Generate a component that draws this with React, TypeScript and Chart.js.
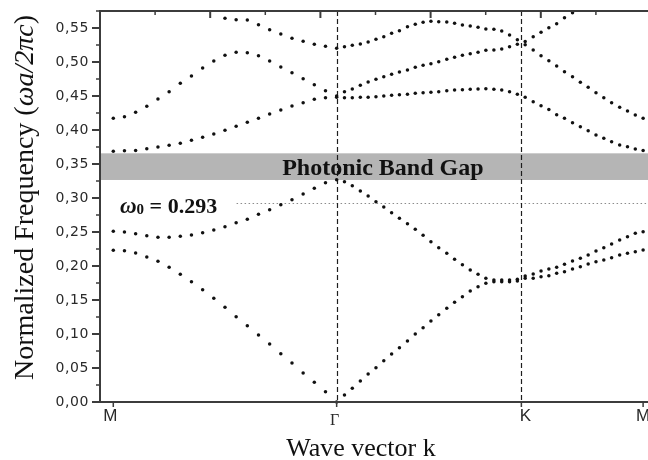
import React, { useEffect, useRef } from 'react';
import { Chart, registerables } from 'chart.js';

Chart.register(...registerables);

// k-path coordinate (M = 0, Γ = 1, K ≈ 1.827, M ≈ 2.372)
const kPath = [
  0, 0.05, 0.10, 0.15, 0.20, 0.25, 0.30, 0.35, 0.40, 0.45, 0.50, 0.55, 0.60, 0.65, 0.70, 0.75, 0.80, 0.85, 0.90, 0.95, 1.00,
  1.035, 1.070, 1.106, 1.141, 1.176, 1.211, 1.246, 1.281, 1.317, 1.352, 1.387, 1.422, 1.457, 1.493, 1.528, 1.563, 1.598, 1.633, 1.668, 1.704, 1.739, 1.774, 1.809,
  1.844, 1.880, 1.915, 1.950, 1.985, 2.020, 2.056, 2.091, 2.126, 2.161, 2.196, 2.231, 2.267, 2.302, 2.337, 2.372,
];

const kTickValues = [0, 1, 1.827, 2.372];
const kTickLabels = ['M', 'Γ', 'K', 'M'];

const yMajorTicks = [0, 0.05, 0.10, 0.15, 0.20, 0.25, 0.30, 0.35, 0.40, 0.45, 0.50, 0.55];
const yTickLabels = ['0,00', '0,05', '0,10', '0,15', '0,20', '0,25', '0,30', '0,35', '0,40', '0,45', '0,50', '0,55'];

// bands: M→Γ (21), Γ→K (23), K→M (16)
const band1 = [
  0.2230, 0.2225, 0.2191, 0.2132, 0.2069, 0.1981, 0.1877, 0.1770, 0.1652, 0.1525, 0.1392, 0.1255, 0.1123, 0.0985, 0.0853, 0.0711, 0.0574, 0.0426, 0.0289, 0.0152, 0.0000,
  0.0103, 0.0201, 0.0309, 0.0412, 0.0505, 0.0608, 0.0706, 0.0799, 0.0897, 0.1000, 0.1093, 0.1191, 0.1284, 0.1377, 0.1466, 0.1549, 0.1632, 0.1696, 0.1745, 0.1770, 0.1770, 0.1770, 0.1779,
  0.1819, 0.1819, 0.1843, 0.1858, 0.1892, 0.1917, 0.1956, 0.1990, 0.2029, 0.2064, 0.2088, 0.2123, 0.2162, 0.2186, 0.2211, 0.2235,
];
const band2 = [
  0.2510, 0.2500, 0.2475, 0.2446, 0.2422, 0.2422, 0.2436, 0.2456, 0.2490, 0.2529, 0.2578, 0.2637, 0.2686, 0.2760, 0.2828, 0.2902, 0.2975, 0.3059, 0.3142, 0.3225, 0.3270,
  0.3240, 0.3181, 0.3103, 0.3029, 0.2946, 0.2868, 0.2784, 0.2701, 0.2623, 0.2539, 0.2451, 0.2358, 0.2270, 0.2186, 0.2098, 0.2020, 0.1941, 0.1877, 0.1819, 0.1794, 0.1794, 0.1794, 0.1804,
  0.1853, 0.1882, 0.1926, 0.1956, 0.1980, 0.2025, 0.2074, 0.2113, 0.2162, 0.2221, 0.2270, 0.2324, 0.2382, 0.2431, 0.2480, 0.2505,
];
const band3 = [
  0.3687, 0.3696, 0.3700, 0.3726, 0.3750, 0.3775, 0.3804, 0.3848, 0.3892, 0.3940, 0.3995, 0.4054, 0.4113, 0.4172, 0.4235, 0.4294, 0.4353, 0.4402, 0.4451, 0.4475, 0.4480,
  0.4475, 0.4475, 0.4480, 0.4480, 0.4490, 0.4500, 0.4510, 0.4520, 0.4524, 0.4539, 0.4549, 0.4554, 0.4564, 0.4578, 0.4588, 0.4593, 0.4598, 0.4603, 0.4608, 0.4598, 0.4588, 0.4564, 0.4524,
  0.4480, 0.4417, 0.4355, 0.4300, 0.4225, 0.4172, 0.4108, 0.4049, 0.3988, 0.3926, 0.3877, 0.3828, 0.3779, 0.3755, 0.3720, 0.3700,
];
const band4 = [
  0.4171, 0.4196, 0.4260, 0.4348, 0.4456, 0.4564, 0.4686, 0.4794, 0.4912, 0.5015, 0.5098, 0.5142, 0.5137, 0.5093, 0.5015, 0.4926, 0.4843, 0.4755, 0.4667, 0.4578, 0.4500,
  0.4564, 0.4603, 0.4657, 0.4706, 0.4745, 0.4784, 0.4819, 0.4853, 0.4882, 0.4922, 0.4951, 0.4975, 0.5005, 0.5039, 0.5069, 0.5098, 0.5122, 0.5142, 0.5172, 0.5176, 0.5191, 0.5225, 0.5260,
  0.5255, 0.5176, 0.5093, 0.5020, 0.4941, 0.4858, 0.4784, 0.4701, 0.4627, 0.4549, 0.4475, 0.4402, 0.4333, 0.4279, 0.4221, 0.4172,
];
const band5 = [
  null, null, null, null, null, null, null, null, null, null, 0.5642, 0.5622, 0.5618, 0.5549, 0.5475, 0.5412, 0.5348, 0.5304, 0.5260, 0.5230, 0.5201,
  0.5225, 0.5245, 0.5265, 0.5294, 0.5333, 0.5372, 0.5421, 0.5461, 0.5520, 0.5554, 0.5583, 0.5598, 0.5593, 0.5588, 0.5569, 0.5544, 0.5529, 0.5510, 0.5485, 0.5480, 0.5456, 0.5397, 0.5328,
  0.5300, 0.5372, 0.5436, 0.5505, 0.5564, 0.5652, 0.5725, null, null, null, null, null, null, null, null, null,
];

const bands = [band1, band2, band3, band4, band5];

const gapBottom = 0.3265;
const gapTop = 0.3657;
const omega0 = 0.293;
const omegaLineStartK = 0.552;
const omegaLabelK = 0.03;
const gapLabelK = 1.207;

const kMin = -0.0595;
const kMax = 2.47;
const yMax = 0.575;
const topAxisMax = 5.127;

const SERIF = '"Liberation Serif", "Times New Roman", serif';
const SANS = '"Liberation Sans", Arial, sans-serif';

const decorPlugin = {
  id: 'decor',
  beforeDatasetsDraw(chart: any) {
    const { ctx, chartArea: a, scales } = chart;
    const x = scales.x, y = scales.y;
    ctx.save();
    // band gap
    const yt = y.getPixelForValue(gapTop);
    const yb = y.getPixelForValue(gapBottom);
    ctx.fillStyle = '#b5b5b5';
    ctx.fillRect(a.left, yt, a.right - a.left, yb - yt);
    // omega0 dotted line
    const yo = Math.round(y.getPixelForValue(omega0)) + 0.5;
    ctx.strokeStyle = '#8c8c8c';
    ctx.lineWidth = 1;
    ctx.setLineDash([1.5, 2.5]);
    ctx.beginPath();
    ctx.moveTo(x.getPixelForValue(omegaLineStartK), yo);
    ctx.lineTo(a.right, yo);
    ctx.stroke();
    // vertical dashed lines at Γ and K
    ctx.strokeStyle = '#1e1e1e';
    ctx.lineWidth = 1.2;
    ctx.setLineDash([5, 3]);
    for (const k of [kTickValues[1], kTickValues[2]]) {
      const px = Math.round(x.getPixelForValue(k)) + 0.5;
      ctx.beginPath();
      ctx.moveTo(px, a.top);
      ctx.lineTo(px, a.bottom);
      ctx.stroke();
    }
    ctx.restore();
  },
  afterDatasetsDraw(chart: any) {
    const { ctx, chartArea: a, scales } = chart;
    const x = scales.x, y = scales.y, xt = scales.xTop;
    ctx.save();
    ctx.setLineDash([]);

    // Photonic Band Gap label
    const ymid = (y.getPixelForValue(gapTop) + y.getPixelForValue(gapBottom)) / 2;
    ctx.fillStyle = '#111';
    ctx.font = `bold 24px ${SERIF}`;
    ctx.textAlign = 'center';
    ctx.textBaseline = 'alphabetic';
    ctx.fillText('Photonic Band Gap', x.getPixelForValue(gapLabelK), ymid + 8);

    // omega0 label
    const yo = y.getPixelForValue(omega0);
    let tx = x.getPixelForValue(omegaLabelK);
    const base = yo + 10.5;
    ctx.textAlign = 'left';
    ctx.font = `italic bold 23px ${SERIF}`;
    ctx.fillText('ω', tx, base);
    tx += ctx.measureText('ω').width;
    ctx.font = `bold 15px ${SERIF}`;
    ctx.fillText('0', tx, base + 1);
    tx += ctx.measureText('0').width;
    ctx.font = `bold 22px ${SERIF}`;
    ctx.fillText(' = 0.293', tx, base);

    // axes lines
    ctx.strokeStyle = '#3c3c3c';
    ctx.lineWidth = 2;
    ctx.beginPath();
    ctx.moveTo(a.left, a.top);
    ctx.lineTo(a.left, a.bottom);
    ctx.moveTo(a.left - 1, a.bottom);
    ctx.lineTo(a.right, a.bottom);
    ctx.moveTo(a.left - 1, a.top);
    ctx.lineTo(a.right, a.top);
    ctx.stroke();

    // left ticks
    ctx.beginPath();
    for (const v of yMajorTicks) {
      const py = y.getPixelForValue(v);
      ctx.moveTo(a.left - 8, py);
      ctx.lineTo(a.left, py);
    }
    ctx.stroke();
    ctx.lineWidth = 1.5;
    ctx.beginPath();
    for (const v of yMajorTicks) {
      const py = y.getPixelForValue(v + 0.025);
      ctx.moveTo(a.left - 4, py);
      ctx.lineTo(a.left, py);
    }
    ctx.stroke();

    // top ticks (inward)
    ctx.lineWidth = 2;
    ctx.beginPath();
    for (let i = 0; i <= Math.floor(topAxisMax); i++) {
      const px = xt.getPixelForValue(i);
      ctx.moveTo(px, a.top);
      ctx.lineTo(px, a.top + 7);
    }
    ctx.stroke();
    ctx.lineWidth = 1.5;
    ctx.beginPath();
    for (let i = 0; i + 0.5 <= topAxisMax; i++) {
      const px = xt.getPixelForValue(i + 0.5);
      ctx.moveTo(px, a.top);
      ctx.lineTo(px, a.top + 4);
    }
    ctx.stroke();

    // bottom ticks
    ctx.beginPath();
    for (const k of kTickValues) {
      const px = x.getPixelForValue(k);
      ctx.moveTo(px, a.bottom);
      ctx.lineTo(px, a.bottom + 5);
    }
    ctx.stroke();

    // y tick labels
    ctx.fillStyle = '#2a2a2a';
    ctx.font = `14px "DejaVu Sans", ${SANS}`;
    (ctx as any).letterSpacing = '0.6px';
    ctx.textAlign = 'right';
    ctx.textBaseline = 'middle';
    yMajorTicks.forEach((v, i) => {
      ctx.fillText(yTickLabels[i], a.left - 11, y.getPixelForValue(v));
    });
    (ctx as any).letterSpacing = '0px';

    // x tick labels
    ctx.textAlign = 'center';
    ctx.textBaseline = 'alphabetic';
    kTickValues.forEach((k, i) => {
      const lab = kTickLabels[i];
      if (lab === 'Γ') {
        ctx.font = `16px ${SERIF}`;
        ctx.fillText(lab, x.getPixelForValue(k) - 2, a.bottom + 23);
      } else {
        ctx.font = `17px ${SANS}`;
        ctx.fillText(lab, x.getPixelForValue(k) - (i === 0 ? 3 : i === 2 ? -4 : 0), a.bottom + 19);
      }
    });

    // x title
    ctx.fillStyle = '#111';
    ctx.font = `26px ${SERIF}`;
    ctx.fillText('Wave vector k', a.left + 261, a.bottom + 54);

    // y title (rotated)
    const segs: [string, string][] = [
      ['Normalized Frequency (', `28px ${SERIF}`],
      ['ωa/2πc', `italic 28px ${SERIF}`],
      [')', `28px ${SERIF}`],
    ];
    let total = 0;
    for (const [t, f] of segs) { ctx.font = f; total += ctx.measureText(t).width; }
    ctx.translate(33, 197.5 + total / 2);
    ctx.rotate(-Math.PI / 2);
    ctx.textAlign = 'left';
    let cx = 0;
    for (const [t, f] of segs) {
      ctx.font = f;
      ctx.fillText(t, cx, 0);
      cx += ctx.measureText(t).width;
    }
    ctx.restore();
  },
};

export default function App() {
  const ref = useRef<HTMLCanvasElement>(null);
  useEffect(() => {
    if (!ref.current) return;
    const datasets = bands.map((b, bi) => ({
      label: `band ${bi + 1}`,
      data: kPath
        .map((k, i) => ({ x: k, y: b[i] }))
        .filter((p) => p.y !== null && p.y !== undefined),
      showLine: false,
      pointRadius: 1.75,
      pointBackgroundColor: '#111',
      pointBorderWidth: 0,
      pointHoverRadius: 1.75,
      clip: 4,
    }));
    const chart = new Chart(ref.current, {
      type: 'scatter',
      data: { datasets: datasets as any },
      options: {
        animation: false,
        responsive: false,
        devicePixelRatio: 1,
        events: [],
        layout: { padding: { left: 0, top: 11, right: 15, bottom: 0 } },
        plugins: { legend: { display: false }, tooltip: { enabled: false } },
        scales: {
          x: {
            type: 'linear',
            min: kMin,
            max: kMax,
            grid: { display: false },
            border: { display: false },
            ticks: { display: false },
            afterFit: (s: any) => { s.height = 58; },
          },
          xTop: {
            type: 'linear',
            position: 'top',
            display: false,
            min: 0,
            max: topAxisMax,
          },
          y: {
            type: 'linear',
            min: 0,
            max: yMax,
            grid: { display: false },
            border: { display: false },
            ticks: { display: false },
            afterFit: (s: any) => { s.width = 100; },
          },
        },
      } as any,
      plugins: [decorPlugin],
    });
    return () => chart.destroy();
  }, []);
  return (
    <div style={{ position: 'fixed', left: 0, top: 0, width: 648, height: 460, overflow: 'hidden', background: '#fff' }}>
      <canvas ref={ref} width={680} height={460} style={{ display: 'block' }} />
    </div>
  );
}
